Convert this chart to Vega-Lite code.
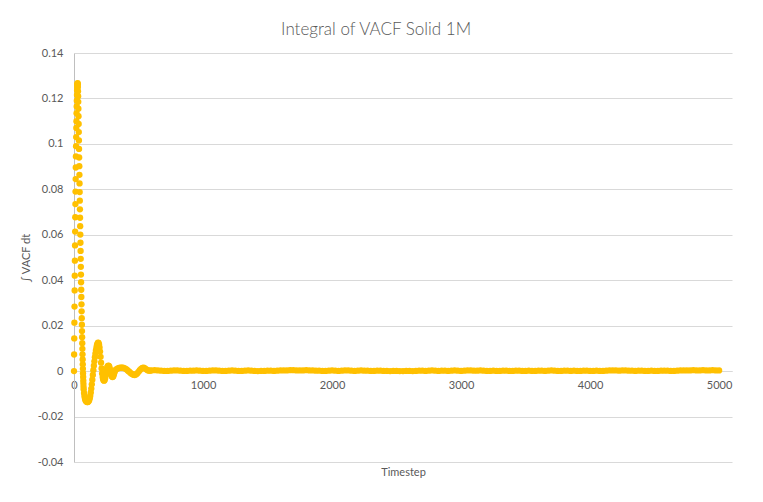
{
  "$schema": "https://vega.github.io/schema/vega-lite/v6.json",
  "width": 658,
  "height": 409,
  "autosize": "none",
  "padding": {"left": 74, "top": 53, "right": 31, "bottom": 40},
  "background": "white",
  "title": {
    "text": "Integral of VACF Solid 1M",
    "font": "Lato",
    "fontSize": 17,
    "fontWeight": 300,
    "color": "#595959",
    "anchor": "middle",
    "frame": "bounds",
    "offset": 8
  },
  "config": {
    "view": {"stroke": null},
    "axis": {
      "labelFont": "Lato",
      "labelFontSize": 11,
      "labelColor": "#595959",
      "titleFont": "Lato",
      "titleFontSize": 11,
      "titleFontWeight": "normal",
      "titleColor": "#595959",
      "ticks": false,
      "domainColor": "#d9d9d9",
      "gridColor": "#d9d9d9"
    }
  },
  "data": {
    "values": [
      {"t": 0, "v": 0}, {"t": 1, "v": 0.0073}, {"t": 2, "v": 0.0144}, {"t": 3, "v": 0.0213},
      {"t": 4, "v": 0.0284}, {"t": 5, "v": 0.0355}, {"t": 6, "v": 0.042}, {"t": 7, "v": 0.0486},
      {"t": 8, "v": 0.0553}, {"t": 9, "v": 0.0614}, {"t": 10, "v": 0.0677}, {"t": 11, "v": 0.0735},
      {"t": 12, "v": 0.079}, {"t": 13, "v": 0.0845}, {"t": 14, "v": 0.0896}, {"t": 15, "v": 0.0945},
      {"t": 16, "v": 0.099}, {"t": 17, "v": 0.103}, {"t": 18, "v": 0.107}, {"t": 19, "v": 0.11},
      {"t": 20, "v": 0.1135}, {"t": 21, "v": 0.1165}, {"t": 22, "v": 0.119}, {"t": 23, "v": 0.1215},
      {"t": 24, "v": 0.1235}, {"t": 25, "v": 0.125}, {"t": 26, "v": 0.126}, {"t": 27, "v": 0.1265},
      {"t": 28, "v": 0.1267}, {"t": 29, "v": 0.1262}, {"t": 30, "v": 0.125}, {"t": 31, "v": 0.1232},
      {"t": 32, "v": 0.121}, {"t": 33, "v": 0.1185}, {"t": 34, "v": 0.1155}, {"t": 35, "v": 0.1122},
      {"t": 36, "v": 0.1088}, {"t": 37, "v": 0.1052}, {"t": 38, "v": 0.1015}, {"t": 39, "v": 0.0978},
      {"t": 40, "v": 0.094}, {"t": 41, "v": 0.0902}, {"t": 42, "v": 0.0864}, {"t": 43, "v": 0.0826},
      {"t": 44, "v": 0.0788}, {"t": 45, "v": 0.075}, {"t": 46, "v": 0.0712}, {"t": 47, "v": 0.0675},
      {"t": 48, "v": 0.0638}, {"t": 49, "v": 0.0601}, {"t": 50, "v": 0.0565}, {"t": 51, "v": 0.0529},
      {"t": 52, "v": 0.0494}, {"t": 53, "v": 0.0459}, {"t": 54, "v": 0.0425}, {"t": 55, "v": 0.0391},
      {"t": 56, "v": 0.0358}, {"t": 57, "v": 0.0326}, {"t": 58, "v": 0.0294}, {"t": 59, "v": 0.0263},
      {"t": 60, "v": 0.0233}, {"t": 61, "v": 0.0204}, {"t": 62, "v": 0.0176}, {"t": 63, "v": 0.0149},
      {"t": 64, "v": 0.0123}, {"t": 65, "v": 0.0098}, {"t": 66, "v": 0.0074}, {"t": 67, "v": 0.0051},
      {"t": 68, "v": 0.003}, {"t": 69, "v": 0.001}, {"t": 70, "v": -0.0009}, {"t": 71, "v": -0.0026},
      {"t": 72, "v": -0.0042}, {"t": 73, "v": -0.0056}, {"t": 74, "v": -0.0069}, {"t": 75, "v": -0.008},
      {"t": 78, "v": -0.0096}, {"t": 81, "v": -0.0108}, {"t": 84, "v": -0.0117}, {"t": 87, "v": -0.0124},
      {"t": 90, "v": -0.0129}, {"t": 94, "v": -0.0133}, {"t": 98, "v": -0.0135}, {"t": 102, "v": -0.0136},
      {"t": 106, "v": -0.0136}, {"t": 110, "v": -0.0135}, {"t": 114, "v": -0.0132}, {"t": 118, "v": -0.0127},
      {"t": 122, "v": -0.0119}, {"t": 126, "v": -0.0108}, {"t": 130, "v": -0.0094}, {"t": 134, "v": -0.0077},
      {"t": 138, "v": -0.0058}, {"t": 142, "v": -0.0038}, {"t": 146, "v": -0.0017}, {"t": 150, "v": 0.0004},
      {"t": 154, "v": 0.0024}, {"t": 158, "v": 0.0043}, {"t": 162, "v": 0.0061}, {"t": 166, "v": 0.0077},
      {"t": 170, "v": 0.0091}, {"t": 174, "v": 0.0103}, {"t": 178, "v": 0.0114}, {"t": 182, "v": 0.0121},
      {"t": 186, "v": 0.0125}, {"t": 190, "v": 0.0124}, {"t": 194, "v": 0.0117}, {"t": 198, "v": 0.0104},
      {"t": 202, "v": 0.0086}, {"t": 206, "v": 0.0063}, {"t": 210, "v": 0.0037}, {"t": 214, "v": 0.0012},
      {"t": 218, "v": -0.001}, {"t": 222, "v": -0.0026}, {"t": 226, "v": -0.0036}, {"t": 230, "v": -0.0041},
      {"t": 234, "v": -0.0042}, {"t": 238, "v": -0.0038}, {"t": 242, "v": -0.003}, {"t": 246, "v": -0.0018},
      {"t": 250, "v": -0.0005}, {"t": 254, "v": 0.0008}, {"t": 258, "v": 0.0017}, {"t": 262, "v": 0.0022},
      {"t": 266, "v": 0.0024}, {"t": 270, "v": 0.0023}, {"t": 274, "v": 0.0018}, {"t": 278, "v": 0.001},
      {"t": 282, "v": 0}, {"t": 286, "v": -0.001}, {"t": 290, "v": -0.0018}, {"t": 294, "v": -0.0024},
      {"t": 298, "v": -0.0026}, {"t": 302, "v": -0.0025}, {"t": 306, "v": -0.002}, {"t": 310, "v": -0.0013},
      {"t": 315, "v": -0.0004}, {"t": 320, "v": 0.0004}, {"t": 330, "v": 0.0009}, {"t": 340, "v": 0.0012},
      {"t": 350, "v": 0.0014}, {"t": 360, "v": 0.0015}, {"t": 370, "v": 0.0015}, {"t": 380, "v": 0.0015},
      {"t": 390, "v": 0.0013}, {"t": 400, "v": 0.001}, {"t": 410, "v": 0.0006}, {"t": 420, "v": 0.0001},
      {"t": 430, "v": -0.0004}, {"t": 440, "v": -0.0009}, {"t": 450, "v": -0.0013}, {"t": 460, "v": -0.0016},
      {"t": 470, "v": -0.0017}, {"t": 480, "v": -0.0015}, {"t": 490, "v": -0.001}, {"t": 500, "v": -0.0003},
      {"t": 510, "v": 0.0004}, {"t": 520, "v": 0.001}, {"t": 530, "v": 0.0014}, {"t": 540, "v": 0.0015},
      {"t": 550, "v": 0.0012}, {"t": 560, "v": 0.0008}, {"t": 570, "v": 0.0004}, {"t": 580, "v": 0.0002},
      {"t": 590, "v": 0.0002}, {"t": 600, "v": 0.0003},
      {"t": 625, "v": 0.0004}, {"t": 650, "v": 0.0003}, {"t": 675, "v": 0.0002}, {"t": 700, "v": 0.0001},
      {"t": 725, "v": 0.0001}, {"t": 750, "v": 0.0002}, {"t": 775, "v": 0.0003}, {"t": 800, "v": 0.0003},
      {"t": 825, "v": 0.0002}, {"t": 850, "v": 0.0001}, {"t": 875, "v": 0.0001}, {"t": 900, "v": 0.0002},
      {"t": 925, "v": 0.0002}, {"t": 950, "v": 0.0003}, {"t": 975, "v": 0.0002}, {"t": 1000, "v": 0.0001},
      {"t": 1025, "v": 0.0001}, {"t": 1050, "v": 0.0002}, {"t": 1075, "v": 0.0003}, {"t": 1100, "v": 0.0003},
      {"t": 1125, "v": 0.0002}, {"t": 1150, "v": 0.0001}, {"t": 1175, "v": 0.0001}, {"t": 1200, "v": 0.0002},
      {"t": 1225, "v": 0.0003}, {"t": 1250, "v": 0.0002}, {"t": 1275, "v": 0.0001}, {"t": 1300, "v": 0.0001},
      {"t": 1325, "v": 0.0002}, {"t": 1350, "v": 0.0003}, {"t": 1375, "v": 0.0002}, {"t": 1400, "v": 0.0001},
      {"t": 1425, "v": 0}, {"t": 1450, "v": 0.0001}, {"t": 1475, "v": 0.0001}, {"t": 1500, "v": 0.0002},
      {"t": 1525, "v": 0.0002}, {"t": 1550, "v": 0.0001}, {"t": 1575, "v": 0.0002}, {"t": 1600, "v": 0.0003},
      {"t": 1625, "v": 0.0003}, {"t": 1650, "v": 0.0003}, {"t": 1675, "v": 0.0004}, {"t": 1700, "v": 0.0004},
      {"t": 1725, "v": 0.0003}, {"t": 1750, "v": 0.0003}, {"t": 1775, "v": 0.0003}, {"t": 1800, "v": 0.0004},
      {"t": 1825, "v": 0.0003}, {"t": 1850, "v": 0.0003}, {"t": 1875, "v": 0.0002}, {"t": 1900, "v": 0.0002},
      {"t": 1925, "v": 0.0001}, {"t": 1950, "v": 0.0001}, {"t": 1975, "v": 0.0002}, {"t": 2000, "v": 0.0003},
      {"t": 2025, "v": 0.0002}, {"t": 2050, "v": 0.0001}, {"t": 2075, "v": 0.0002}, {"t": 2100, "v": 0.0003},
      {"t": 2125, "v": 0.0003}, {"t": 2150, "v": 0.0002}, {"t": 2175, "v": 0.0001}, {"t": 2200, "v": 0.0002},
      {"t": 2225, "v": 0.0003}, {"t": 2250, "v": 0.0002}, {"t": 2275, "v": 0.0002}, {"t": 2300, "v": 0.0001},
      {"t": 2325, "v": 0.0001}, {"t": 2350, "v": 0.0002}, {"t": 2375, "v": 0.0002}, {"t": 2400, "v": 0.0001},
      {"t": 2425, "v": 0.0001}, {"t": 2450, "v": 0}, {"t": 2475, "v": 0.0001}, {"t": 2500, "v": 0.0001},
      {"t": 2525, "v": 0}, {"t": 2550, "v": 0}, {"t": 2575, "v": 0.0001}, {"t": 2600, "v": 0.0001},
      {"t": 2625, "v": 0}, {"t": 2650, "v": 0.0001}, {"t": 2675, "v": 0.0002}, {"t": 2700, "v": 0.0002},
      {"t": 2725, "v": 0.0001}, {"t": 2750, "v": 0.0002}, {"t": 2775, "v": 0.0003}, {"t": 2800, "v": 0.0002},
      {"t": 2825, "v": 0.0001}, {"t": 2850, "v": 0.0002}, {"t": 2875, "v": 0.0002}, {"t": 2900, "v": 0.0001},
      {"t": 2925, "v": 0.0002}, {"t": 2950, "v": 0.0003}, {"t": 2975, "v": 0.0002}, {"t": 3000, "v": 0.0001},
      {"t": 3025, "v": 0.0002}, {"t": 3050, "v": 0.0003}, {"t": 3075, "v": 0.0003}, {"t": 3100, "v": 0.0002},
      {"t": 3125, "v": 0.0002}, {"t": 3150, "v": 0.0003}, {"t": 3175, "v": 0.0002}, {"t": 3200, "v": 0.0001},
      {"t": 3225, "v": 0.0001}, {"t": 3250, "v": 0.0002}, {"t": 3275, "v": 0.0001}, {"t": 3300, "v": 0.0001},
      {"t": 3325, "v": 0.0002}, {"t": 3350, "v": 0.0002}, {"t": 3375, "v": 0.0001}, {"t": 3400, "v": 0.0001},
      {"t": 3425, "v": 0.0002}, {"t": 3450, "v": 0.0002}, {"t": 3475, "v": 0.0001}, {"t": 3500, "v": 0.0001},
      {"t": 3525, "v": 0.0002}, {"t": 3550, "v": 0.0001}, {"t": 3575, "v": 0.0001}, {"t": 3600, "v": 0.0002},
      {"t": 3625, "v": 0.0002}, {"t": 3650, "v": 0.0001}, {"t": 3675, "v": 0.0002}, {"t": 3700, "v": 0.0003},
      {"t": 3725, "v": 0.0002}, {"t": 3750, "v": 0.0001}, {"t": 3775, "v": 0.0001}, {"t": 3800, "v": 0.0002},
      {"t": 3825, "v": 0.0002}, {"t": 3850, "v": 0.0001}, {"t": 3875, "v": 0.0002}, {"t": 3900, "v": 0.0001},
      {"t": 3925, "v": 0.0001}, {"t": 3950, "v": 0.0002}, {"t": 3975, "v": 0.0002}, {"t": 4000, "v": 0.0001},
      {"t": 4025, "v": 0.0001}, {"t": 4050, "v": 0.0002}, {"t": 4075, "v": 0.0001}, {"t": 4100, "v": 0.0001},
      {"t": 4125, "v": 0.0002}, {"t": 4150, "v": 0.0003}, {"t": 4175, "v": 0.0003}, {"t": 4200, "v": 0.0003},
      {"t": 4225, "v": 0.0002}, {"t": 4250, "v": 0.0003}, {"t": 4275, "v": 0.0003}, {"t": 4300, "v": 0.0002},
      {"t": 4325, "v": 0.0002}, {"t": 4350, "v": 0.0001}, {"t": 4375, "v": 0.0002}, {"t": 4400, "v": 0.0002},
      {"t": 4425, "v": 0.0001}, {"t": 4450, "v": 0.0001}, {"t": 4475, "v": 0.0002}, {"t": 4500, "v": 0.0001},
      {"t": 4525, "v": 0.0001}, {"t": 4550, "v": 0.0002}, {"t": 4575, "v": 0.0002}, {"t": 4600, "v": 0.0002},
      {"t": 4625, "v": 0.0001}, {"t": 4650, "v": 0.0001}, {"t": 4675, "v": 0.0002}, {"t": 4700, "v": 0.0003},
      {"t": 4725, "v": 0.0003}, {"t": 4750, "v": 0.0003}, {"t": 4775, "v": 0.0003}, {"t": 4800, "v": 0.0004},
      {"t": 4825, "v": 0.0003}, {"t": 4850, "v": 0.0003}, {"t": 4875, "v": 0.0004}, {"t": 4900, "v": 0.0003},
      {"t": 4925, "v": 0.0003}, {"t": 4950, "v": 0.0004}, {"t": 4975, "v": 0.0003}, {"t": 5000, "v": 0.0003}
    ]
  },
  "mark": {
    "type": "point",
    "filled": true,
    "size": 40,
    "opacity": 1,
    "color": "#FFC000"
  },
  "encoding": {
    "x": {
      "field": "t",
      "type": "quantitative",
      "title": "Timestep",
      "scale": {"domain": [0, 5100], "nice": false},
      "axis": {
        "values": [0, 1000, 2000, 3000, 4000, 5000],
        "format": "d",
        "grid": false,
        "offset": -91,
        "labelPadding": 8,
        "titlePadding": 76,
        "labelFlush": false
      }
    },
    "y": {
      "field": "v",
      "type": "quantitative",
      "title": "∫ VACF dt",
      "scale": {"domain": [-0.04, 0.14], "nice": false},
      "axis": {
        "values": [-0.04, -0.02, 0, 0.02, 0.04, 0.06, 0.08, 0.1, 0.12, 0.14],
        "labelExpr": "'' + round(datum.value * 100) / 100",
        "grid": true,
        "domainColor": "#bfbfbf",
        "labelPadding": 11,
        "titlePadding": 6
      }
    }
  }
}
